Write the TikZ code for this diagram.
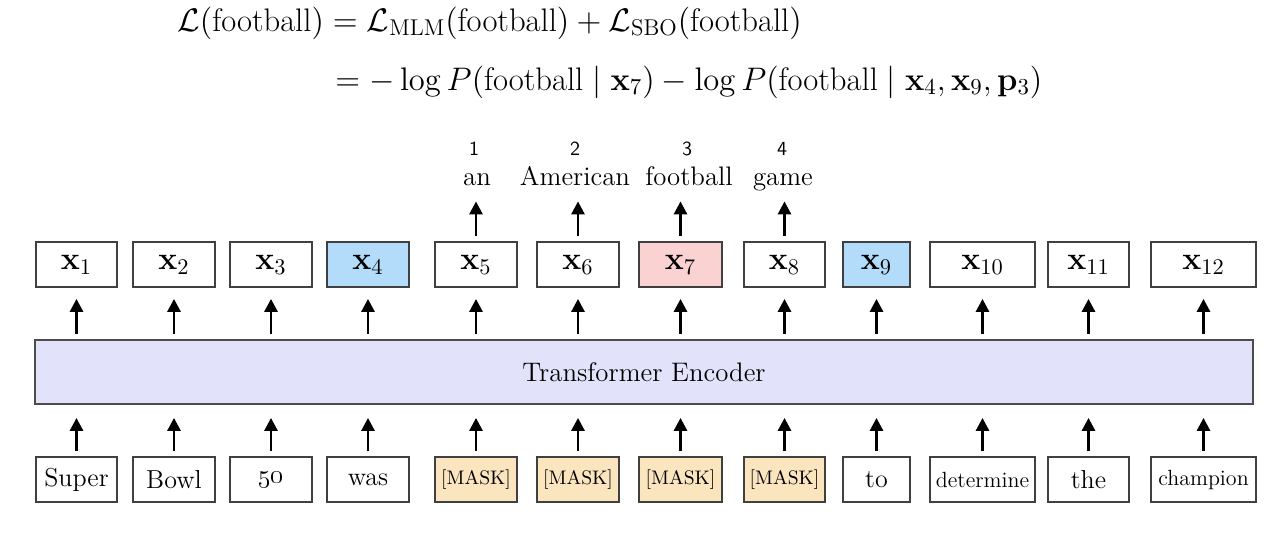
\RequirePackage{fix-cm}
\documentclass[tikz,border=0pt]{standalone}
\usepackage{amsmath}
\usetikzlibrary{arrows.meta}

\definecolor{maskfill}{RGB}{251,229,190}
\definecolor{spanbd}{RGB}{178,220,250}
\definecolor{target}{RGB}{250,210,210}
\definecolor{encfill}{RGB}{226,226,250}

\tikzset{
  token/.style={draw=black!75,line width=0.9pt,minimum height=22.5pt,inner sep=0pt,font=\fontsize{13}{15}\selectfont},
  hidden/.style={token,font=\fontsize{16}{18}\selectfont},
  masked/.style={token,fill=maskfill,font=\fontsize{9.8}{11}\selectfont},
  longword/.style={token,font=\fontsize{11}{13}\selectfont},
  pred/.style={inner sep=0pt,text depth=0pt,anchor=base,font=\fontsize{13.4}{15}\selectfont},
  rank/.style={inner sep=0pt,anchor=base,font=\fontsize{10}{11}\sffamily},
  loss/.style={inner sep=0pt,anchor=base west,font=\fontsize{16.3}{19}\selectfont},
  up/.style={-{Triangle[width=6.5pt,length=6.5pt]},line width=1.4pt,shorten <=2.5pt},
  upin/.style={up,shorten >=6.5pt},
  upout/.style={up,shorten >=5.5pt},
  uppred/.style={up,shorten >=8pt},
}

\begin{document}
\begin{tikzpicture}[x=0.5pt,y=-0.5pt]
  \useasboundingbox (0,0) rectangle (1278,536);

  % SpanBERT loss
  \node[loss] (loss1) at (177,31) {$\mathcal{L}(\text{football}) = \mathcal{L}_{\text{MLM}}(\text{football}) + \mathcal{L}_{\text{SBO}}(\text{football})$};
  \node[loss] (loss2) at (335,90) {$= -\log P(\text{football} \mid \mathbf{x}_7) - \log P(\text{football} \mid \mathbf{x}_4, \mathbf{x}_9, \mathbf{p}_3)$};

  % encoder
  \node[draw=black!70,line width=0.9pt,fill=encfill,minimum width=609pt,minimum height=32pt,font=\fontsize{13.4}{15}\selectfont] (enc) at (644,372) {Transformer Encoder};

  % outputs
  \node[hidden,minimum width=40.5pt] (x1) at (76.5,264.5) {$\mathbf{x}_1$};
  \node[hidden,minimum width=41pt] (x2) at (174,264.5) {$\mathbf{x}_2$};
  \node[hidden,minimum width=41pt] (x3) at (271,264.5) {$\mathbf{x}_3$};
  \node[hidden,minimum width=41pt,fill=spanbd] (x4) at (368,264.5) {$\mathbf{x}_4$};
  \node[hidden,minimum width=41pt] (x5) at (476,264.5) {$\mathbf{x}_5$};
  \node[hidden,minimum width=41pt] (x6) at (578,264.5) {$\mathbf{x}_6$};
  \node[hidden,minimum width=41.5pt,fill=target] (x7) at (680.5,264.5) {$\mathbf{x}_7$};
  \node[hidden,minimum width=40.5pt] (x8) at (784.5,264.5) {$\mathbf{x}_8$};
  \node[hidden,minimum width=33.5pt,fill=spanbd] (x9) at (876.5,264.5) {$\mathbf{x}_9$};
  \node[hidden,minimum width=52.5pt] (x10) at (982.5,264.5) {$\mathbf{x}_{10}$};
  \node[hidden,minimum width=40.5pt] (x11) at (1088.5,264.5) {$\mathbf{x}_{11}$};
  \node[hidden,minimum width=52.5pt] (x12) at (1203.5,264.5) {$\mathbf{x}_{12}$};

  % inputs
  \node[token,minimum width=40.5pt] (t1) at (76.5,479.5) {Super};
  \node[token,minimum width=41pt] (t2) at (174,479.5) {Bowl};
  \node[token,minimum width=41pt] (t3) at (271,479.5) {\oldstylenums{50}};
  \node[token,minimum width=41pt] (t4) at (368,479.5) {was};
  \node[masked,minimum width=41pt] (t5) at (476,479.5) {[MASK]};
  \node[masked,minimum width=41pt] (t6) at (578,479.5) {[MASK]};
  \node[masked,minimum width=41.5pt] (t7) at (680.5,479.5) {[MASK]};
  \node[masked,minimum width=40.5pt] (t8) at (784.5,479.5) {[MASK]};
  \node[token,minimum width=33.5pt] (t9) at (876.5,479.5) {to};
  \node[longword,minimum width=52.5pt] (t10) at (982.5,479.5) {determine};
  \node[token,minimum width=40.5pt] (t11) at (1088.5,479.5) {the};
  \node[longword,minimum width=52.5pt] (t12) at (1203.5,479.5) {champion};

  % predicted span
  \node[pred] (w1) at (477,185) {an};
  \node[pred] (w2) at (575,185) {American};
  \node[pred] (w3) at (689,185) {football};
  \node[pred] (w4) at (783,185) {game};
  \node[rank] (r1) at (474,155) {1};
  \node[rank] (r2) at (575,155) {2};
  \node[rank] (r3) at (687,155) {3};
  \node[rank] (r4) at (782,155) {4};

  \draw[uppred] (x5.north) -- (x5.north |- w1.south);
  \draw[uppred] (x6.north) -- (x6.north |- w2.south);
  \draw[uppred] (x7.north) -- (x7.north |- w3.south);
  \draw[uppred] (x8.north) -- (x8.north |- w4.south);

  \draw[upout] (x1.south |- enc.north) -- (x1.south);
  \draw[upout] (x2.south |- enc.north) -- (x2.south);
  \draw[upout] (x3.south |- enc.north) -- (x3.south);
  \draw[upout] (x4.south |- enc.north) -- (x4.south);
  \draw[upout] (x5.south |- enc.north) -- (x5.south);
  \draw[upout] (x6.south |- enc.north) -- (x6.south);
  \draw[upout] (x7.south |- enc.north) -- (x7.south);
  \draw[upout] (x8.south |- enc.north) -- (x8.south);
  \draw[upout] (x9.south |- enc.north) -- (x9.south);
  \draw[upout] (x10.south |- enc.north) -- (x10.south);
  \draw[upout] (x11.south |- enc.north) -- (x11.south);
  \draw[upout] (x12.south |- enc.north) -- (x12.south);

  \draw[upin] (t1.north) -- (t1.north |- enc.south);
  \draw[upin] (t2.north) -- (t2.north |- enc.south);
  \draw[upin] (t3.north) -- (t3.north |- enc.south);
  \draw[upin] (t4.north) -- (t4.north |- enc.south);
  \draw[upin] (t5.north) -- (t5.north |- enc.south);
  \draw[upin] (t6.north) -- (t6.north |- enc.south);
  \draw[upin] (t7.north) -- (t7.north |- enc.south);
  \draw[upin] (t8.north) -- (t8.north |- enc.south);
  \draw[upin] (t9.north) -- (t9.north |- enc.south);
  \draw[upin] (t10.north) -- (t10.north |- enc.south);
  \draw[upin] (t11.north) -- (t11.north |- enc.south);
  \draw[upin] (t12.north) -- (t12.north |- enc.south);

\end{tikzpicture}
\end{document}
